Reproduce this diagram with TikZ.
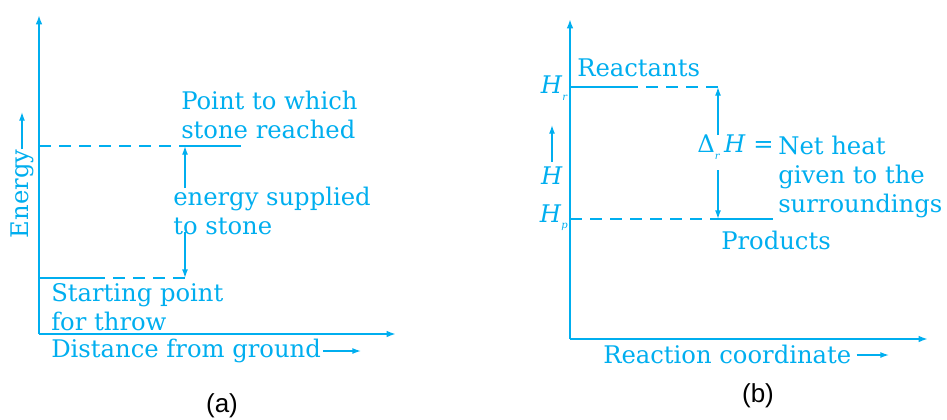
\documentclass[tikz,border=0pt]{standalone}
\usepackage{fontspec}
\setmainfont{DejaVu Serif}
\newfontfamily\capfont{Liberation Sans}
\usetikzlibrary{arrows.meta}
\definecolor{ncyan}{RGB}{0,174,239}
\tikzset{
  lbl/.style={text=ncyan, inner sep=0pt, font=\fontsize{18.2}{21.8}\selectfont, align=left},
  capt/.style={text=black, inner sep=0pt, font=\capfont\fontsize{19.5}{22}\selectfont},
  axisline/.style={draw=ncyan, line width=1.5pt, -{Latex[length=7pt,width=5pt]}},
  levelline/.style={draw=ncyan, line width=1.6pt},
  dashline/.style={draw=ncyan, line width=1.1pt, dash pattern=on 9pt off 6pt},
  ptr/.style={draw=ncyan, line width=1pt, -{Latex[length=6.5pt,width=4.5pt]}},
}
\begin{document}
\begin{tikzpicture}[x=0.75pt,y=-0.75pt]
\useasboundingbox (0,0) rectangle (947,419);
% ---------------- panel (a) ----------------
\coordinate (aO) at (39,334);
\coordinate (aY) at (39,15);
\coordinate (aX) at (396,334);
\draw[axisline] (aO) -- (aY);
\draw[axisline] (aO) -- (aX);
\coordinate (aLowL) at (39,278);
\coordinate (aLowM) at (93,278);
\coordinate (aLowR) at (185,278);
\coordinate (aUpL) at (39,146);
\coordinate (aUpM) at (185,146);
\coordinate (aUpR) at (241,146);
\draw[levelline] (aLowL) -- (aLowM);
\draw[dashline] (aLowM) -- (aLowR);
\draw[dashline] (aUpL) -- (aUpM);
\draw[levelline] (aUpM) -- (aUpR);
\coordinate (aArU) at (185,188);
\coordinate (aArD) at (185,232);
\draw[ptr] (aArU) -- (aUpM);
\draw[ptr] (aArD) -- (aLowR);
\node[lbl, anchor=west] (apoint) at (181,114.5) {Point to which\\stone reached};
\node[lbl, anchor=west] (aenergy) at (173,211) {energy supplied\\to stone};
\node[lbl, anchor=west] (astart) at (51,307.5) {Starting point\\for throw};
\node[lbl, anchor=west] (adist) at (51,351) {Distance from ground};
\coordinate (adistTip) at (361,351);
\draw[ptr] (adist.east) ++(2,0) coordinate (adistS) -- (adistTip);
\node[lbl, rotate=90, anchor=center] (aEn) at (22,194) {Energy};
\coordinate (aEnTip) at (aEn.east |- 0,112);
\draw[ptr] (aEn.east) -- (aEnTip);
\node[capt] (acap) at (222,406) {(a)};
% ---------------- panel (b) ----------------
\coordinate (bO) at (570,339);
\coordinate (bY) at (570,19);
\coordinate (bX) at (928,339);
\draw[axisline] (bO) -- (bY);
\draw[axisline] (bO) -- (bX);
\coordinate (bRL) at (570,87);
\coordinate (bRM) at (626,87);
\coordinate (bRR) at (723,87);
\coordinate (bRA) at (718,87);
\coordinate (bPL) at (570,219);
\coordinate (bPM) at (718,219);
\coordinate (bPR) at (773,219);
\draw[levelline] (bRL) -- (bRM);
\draw[dashline] (bRM) -- (bRR);
\draw[dashline] (bPL) -- (bPM);
\draw[levelline] (bPM) -- (bPR);
\coordinate (bArU) at (718,135);
\coordinate (bArD) at (718,170);
\draw[ptr] (bArU) -- (bRA);
\draw[ptr] (bArD) -- (bPM);
\node[lbl, anchor=west] (breact) at (577,68) {Reactants};
\node[lbl, anchor=west] (bprod) at (721,240) {Products};
\node[lbl, anchor=east] (bHr) at (568,88) {\textit{H}\raisebox{-0.5ex}{\fontsize{7.5}{8}\selectfont\textit{r}}};
\node[lbl, anchor=east] (bHp) at (568,218) {\textit{H}\raisebox{-0.5ex}{\fontsize{7.5}{8}\selectfont\textit{p}}};
\node[lbl] (bH) at (552,176) {\textit{H}};
\coordinate (bHS) at (552,162);
\coordinate (bHT) at (552,125);
\draw[ptr] (bHS) -- (bHT);
\node[lbl, anchor=east] (bdelta) at (774,147) {Δ\raisebox{-0.5ex}{\fontsize{7.5}{8}\selectfont\textit{r}}\,\textit{H} =};
\node[lbl, anchor=west] (bnet) at (778,177) {Net heat\\given to the\\surroundings};
\node[lbl, anchor=west] (breac) at (603,354) {Reaction coordinate};
\coordinate (breacTip) at (889,355);
\draw[ptr] (breac.east) ++(5,1) coordinate (breacS) -- (breacTip);
\node[capt] (bcap) at (758,396) {(b)};
\end{tikzpicture}
\end{document}
